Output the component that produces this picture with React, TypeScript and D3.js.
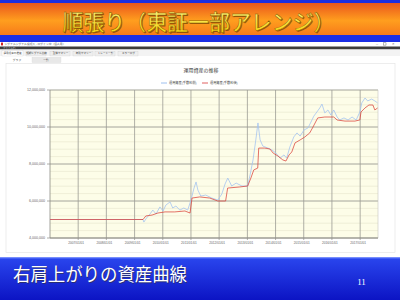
import React from "react";
import * as d3 from "d3";

const yTicks = [4000000, 6000000, 8000000, 10000000, 12000000];
const xTickYears = [2007, 2008, 2009, 2010, 2011, 2012, 2013, 2014, 2015, 2016, 2017];

const redDates = ["2006-01-01","2009-04-20","2009-05-26","2009-08-15","2009-10-30","2010-01-30","2010-06-05","2010-10-15","2010-12-20","2011-01-15","2011-04-25","2011-09-01","2011-12-15","2012-03-25","2012-04-20","2012-09-25","2013-01-05","2013-02-15","2013-03-25","2013-05-15","2013-05-28","2013-08-15","2013-10-20","2013-12-01","2014-02-01","2014-04-05","2014-05-15","2014-06-25","2014-07-30","2014-09-10","2014-11-15","2015-01-15","2015-03-20","2015-05-01","2015-07-01","2015-10-01","2016-01-25","2016-03-08","2016-06-18","2016-10-25","2016-12-28","2017-01-12","2017-03-05","2017-04-25","2017-06-15","2017-07-10","2017-08-15"];
const redValues = [5000000,5000000,5190000,5240000,5350000,5410000,5410000,5460000,5350000,6160000,6220000,6160000,6000000,6000000,6700000,6760000,6810000,7240000,7680000,7780000,8860000,8860000,8810000,8590000,8430000,8220000,8160000,8490000,8650000,9140000,9300000,9460000,9680000,10000000,10490000,10540000,10540000,10380000,10320000,10320000,10380000,10810000,11030000,11190000,11190000,10920000,11030000];

const blueDates = ["2006-01-01","2009-04-20","2009-05-01","2009-06-05","2009-07-20","2009-08-25","2009-10-05","2009-11-25","2010-01-05","2010-02-10","2010-04-05","2010-05-10","2010-06-20","2010-08-10","2010-10-01","2010-11-20","2011-01-01","2011-02-10","2011-03-08","2011-04-01","2011-05-08","2011-07-12","2011-09-28","2011-12-15","2012-02-05","2012-03-18","2012-04-22","2012-06-12","2012-08-08","2012-10-22","2013-01-05","2013-02-05","2013-03-15","2013-04-20","2013-05-18","2013-06-15","2013-07-20","2013-09-25","2013-11-15","2014-01-05","2014-03-01","2014-04-20","2014-05-25","2014-07-05","2014-08-25","2014-10-05","2014-11-15","2015-01-05","2015-02-25","2015-04-05","2015-05-12","2015-06-20","2015-07-28","2015-08-25","2015-10-01","2015-11-10","2015-12-18","2016-01-25","2016-03-08","2016-04-12","2016-06-05","2016-07-28","2016-09-18","2016-11-10","2016-12-28","2017-01-22","2017-03-05","2017-04-08","2017-05-30","2017-07-10","2017-08-15"];
const blueValues = [5000000,5000000,4860000,5080000,5300000,5510000,5300000,5680000,5460000,5780000,5950000,5620000,5730000,5510000,5620000,5510000,6050000,6700000,7030000,6590000,6270000,6320000,6160000,6050000,6380000,6920000,7240000,6810000,6970000,6810000,6810000,7410000,8220000,9300000,10220000,9300000,8970000,8860000,8760000,8590000,8320000,8490000,8320000,8920000,9460000,9680000,9510000,9840000,9950000,10270000,10590000,10810000,11030000,11240000,10760000,10920000,10650000,10920000,10540000,10380000,10490000,10380000,10540000,10380000,10810000,11300000,11570000,11410000,11510000,11410000,11300000];

const tabLabels = ["運用資産の推移", "短期シグナル比較", "全体サマリー", "年別サマリー", "トレード一覧", "エラーログ"];
const legendLabels = ["運用資産(手数料前)", "運用資産(手数料後)"];

const JP = "'Noto Sans CJK JP', 'Noto Sans', sans-serif";

export default function App() {
  const parse = d3.timeParse("%Y-%m-%d");
  const x = d3.scaleTime().domain([new Date(2006, 0, 1), new Date(2017, 7, 20)]).range([50, 378]);
  const y = d3.scaleLinear().domain([4000000, 12000000]).range([238, 90]);
  const minorTicks = d3.range(4000000, 12000001, 400000);
  const red = redDates.map((d, i) => ({ d: parse(d) as Date, v: redValues[i] }));
  const blue = blueDates.map((d, i) => ({ d: parse(d) as Date, v: blueValues[i] }));
  const line = d3.line<{ d: Date; v: number }>().x((p) => x(p.d)).y((p) => y(p.v));
  const fmt = d3.format(",");
  const tabX = [2, 26, 50, 73, 95, 118];

  return (
    <div style={{ position: "absolute", left: 0, top: 0 }}>
      <svg width={400} height={300} style={{ display: "block" }}>
        <defs>
          <linearGradient id="org" x1="0" y1="0" x2="0" y2="1">
            <stop offset="0" stopColor="#ea561c" />
            <stop offset="0.55" stopColor="#ff9e1e" />
            <stop offset="1" stopColor="#f67a1a" />
          </linearGradient>
          <linearGradient id="yel" x1="0" y1="0" x2="0" y2="1">
            <stop offset="0" stopColor="#fffb9a" />
            <stop offset="1" stopColor="#f5d000" />
          </linearGradient>
          <linearGradient id="blu" x1="0" y1="0" x2="0" y2="1">
            <stop offset="0" stopColor="#2a46ee" />
            <stop offset="1" stopColor="#0c14c4" />
          </linearGradient>
        </defs>
        <rect x={0} y={0} width={400} height={300} fill="#ffffff" />
        {/* top banner */}
        <rect x={0} y={0} width={400} height={3} fill="#1d2ee0" />
        <rect x={0} y={3} width={400} height={32} fill="url(#org)" />
        <rect x={0} y={35} width={400} height={7} fill="#1a2ee6" />
        <text x={199.5} y={30.5} textAnchor="middle" fontFamily={JP} fontSize={21.5} fontWeight={500}
          fill="#5a3000" opacity={0.6} textLength={272} lengthAdjust="spacingAndGlyphs">順張り（東証一部アレンジ）</text>
        <text x={198.5} y={29.5} textAnchor="middle" fontFamily={JP} fontSize={21.5} fontWeight={500}
          fill="url(#yel)" stroke="#8a5a00" strokeWidth={0.5} textLength={272} lengthAdjust="spacingAndGlyphs">順張り（東証一部アレンジ）</text>

        {/* window chrome */}
        <rect x={0} y={42} width={400} height={4.5} fill="#ffffff" />
        <rect x={1} y={42.6} width={2} height={2.8} fill="#d02020" />
        <text x={4.5} y={45.2} fontFamily={JP} fontSize={2.8} fill="#555">シグナルシグナル投資入 - ログイン中（個人用）</text>
        <text x={377} y={45.2} fontFamily={JP} fontSize={3} fill="#555" textAnchor="middle">—</text>
        <rect x={383.5} y={42.8} width={2.5} height={2.3} fill="none" stroke="#555" strokeWidth={0.4} />
        <text x={393} y={45.4} fontFamily={JP} fontSize={3.2} fill="#555" textAnchor="middle">✕</text>
        <rect x={0} y={46.5} width={400} height={3} fill="#3d3d3d" />
        <text x={3} y={48.8} fontFamily={JP} fontSize={2.4} fill="#ddd">ファイル(F)</text>
        <rect x={0} y={49.5} width={400} height={6.5} fill="#f3f3f3" />
        {tabLabels.map((t, i) => (
          <g key={t}>
            <rect x={tabX[i]} y={i === 0 ? 50.5 : 51.2} width={i === 0 ? 21 : 20} height={i === 0 ? 5.5 : 4.8}
              fill={i === 0 ? "#ffffff" : "#eeeeee"} stroke="#cccccc" strokeWidth={0.3} />
            <text x={tabX[i] + 10.5} y={54.3} textAnchor="middle" fontFamily={JP} fontSize={2.6} fill="#444">{t}</text>
          </g>
        ))}
        <text x={17} y={61} textAnchor="middle" fontFamily={JP} fontSize={2.8} fill="#555">グラフ</text>
        <rect x={32} y={57.3} width={29} height={5.2} fill="#e8e8e8" stroke="#d4d4d4" strokeWidth={0.3} />
        <text x={46} y={61} textAnchor="middle" fontFamily={JP} fontSize={2.8} fill="#444">一覧</text>
        <rect x={6} y={63.5} width={389} height={189} fill="#ffffff" stroke="#e2e2e2" strokeWidth={0.6} />

        {/* chart title & legend */}
        <text x={201} y={72} textAnchor="middle" fontFamily={JP} fontSize={5} fill="#333">運用資産の推移</text>
        <line x1={161} x2={167} y1={83} y2={83} stroke="#9ec0ef" strokeWidth={1} />
        <text x={169} y={84.2} fontFamily={JP} fontSize={3.2} fill="#444">{legendLabels[0]}</text>
        <line x1={202} x2={208} y1={83} y2={83} stroke="#e06060" strokeWidth={1} />
        <text x={210} y={84.2} fontFamily={JP} fontSize={3.2} fill="#444">{legendLabels[1]}</text>

        {/* plot */}
        <rect x={50} y={90} width={328} height={148} fill="#fdfde8" />
        {minorTicks.map((t) => (
          <line key={"m" + t} x1={50} x2={378} y1={y(t)} y2={y(t)} stroke="#e6e4cc" strokeWidth={0.6} />
        ))}
        {yTicks.map((t) => (
          <g key={"y" + t}>
            <line x1={47} x2={378} y1={y(t)} y2={y(t)} stroke="#9a9a94" strokeWidth={0.8} />
            <text x={45} y={y(t) + 1.3} textAnchor="end" fontFamily="'Liberation Sans', sans-serif" fontSize={3.6} fill="#666">{fmt(t)}</text>
          </g>
        ))}
        {xTickYears.map((yr) => {
          const d = new Date(yr, 0, 1);
          return (
            <g key={"x" + yr}>
              <line x1={x(d)} x2={x(d)} y1={90} y2={240} stroke="#9a9a94" strokeWidth={0.8} />
              <text x={x(d) - 2} y={243.5} textAnchor="middle" fontFamily="'Liberation Sans', sans-serif" fontSize={3.2} fill="#666">{d3.timeFormat("%Y/%m/%d")(d)}</text>
            </g>
          );
        })}
        <line x1={50} x2={50} y1={90} y2={238} stroke="#8a8a84" strokeWidth={0.8} />
        <line x1={378} x2={378} y1={90} y2={238} stroke="#c8c8c0" strokeWidth={0.6} />
        <line x1={50} x2={378} y1={238} y2={238} stroke="#8a8a84" strokeWidth={0.8} />
        <path d={line(blue) || ""} fill="none" stroke="#a4c4f0" strokeWidth={0.8} />
        <path d={line(red) || ""} fill="none" stroke="#d83a34" strokeWidth={0.9} strokeOpacity={0.8} />

        {/* bottom banner */}
        <rect x={0} y={257.5} width={400} height={42.5} fill="url(#blu)" />
        <rect x={0} y={257.5} width={400} height={1} fill="#5a78ff" />
        <text x={14} y={282} fontFamily={JP} fontSize={18} fill="#333" opacity={0.6} textLength={174} lengthAdjust="spacingAndGlyphs">右肩上がりの資産曲線</text>
        <text x={13} y={281} fontFamily={JP} fontSize={18} fill="#ffffff" textLength={174} lengthAdjust="spacingAndGlyphs">右肩上がりの資産曲線</text>
        <text x={361.5} y={285} textAnchor="middle" fontFamily="'Liberation Serif', serif" fontSize={9} fill="#ffffff">11</text>
      </svg>
    </div>
  );
}
